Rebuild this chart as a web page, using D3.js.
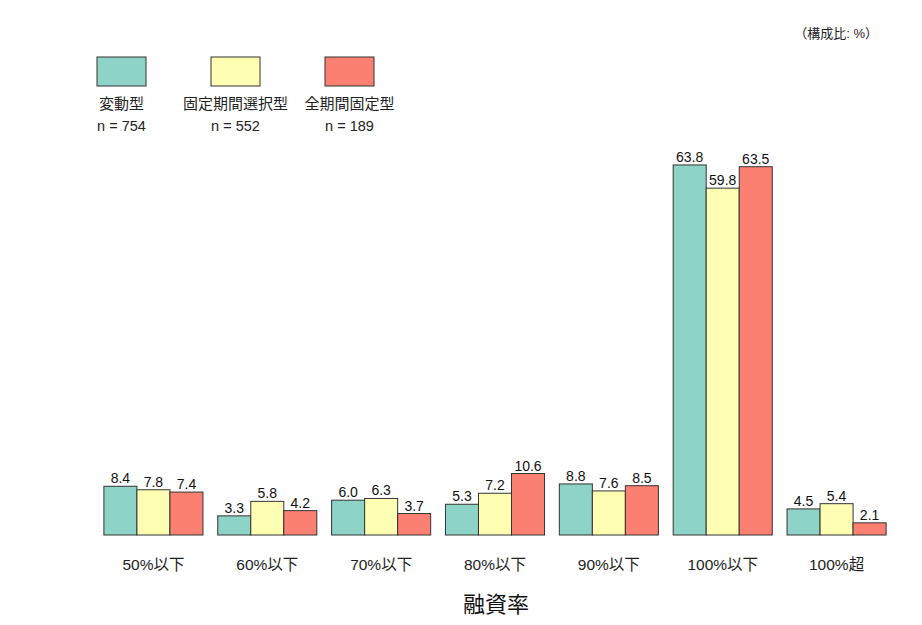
<!DOCTYPE html>
<html><head><meta charset="utf-8">
<script src="https://cdn.jsdelivr.net/npm/d3@7"></script>
<style>body{margin:0;background:#fff;} text{font-family:"Liberation Sans","Noto Sans CJK JP",Arial,sans-serif;}</style>
</head><body>
<svg id="c" width="922" height="625"></svg>
<script>
const categories = ["50%以下","60%以下","70%以下","80%以下","90%以下","100%以下","100%超"];
const seriesNames = ["変動型","固定期間選択型","全期間固定型"];
const seriesN = ["n = 754","n = 552","n = 189"];
const seriesColors = ["#8DD3C7","#FFFFB3","#FB8072"];
const hendo = [8.4,3.3,6.0,5.3,8.8,63.8,4.5];
const kotei = [7.8,5.8,6.3,7.2,7.6,59.8,5.4];
const zenki = [7.4,4.2,3.7,10.6,8.5,63.5,2.1];
const seriesValues = [hendo,kotei,zenki];

const svg = d3.select("#c");
const x = d3.scaleBand().domain(categories).range([96.5,893.5]).paddingInner(0.13).paddingOuter(0.065);
const xs = d3.scaleBand().domain(d3.range(seriesNames.length)).range([0,x.bandwidth()]);
const y = d3.scaleLinear().domain([0,70]).range([535,129]);

const g = svg.append("g");
categories.forEach((c,ci)=>{
  seriesValues.forEach((vals,si)=>{
    const v = vals[ci];
    g.append("rect").attr("x",x(c)+xs(si)).attr("y",y(v)).attr("width",xs.bandwidth()).attr("height",y(0)-y(v))
      .attr("fill",seriesColors[si]).attr("stroke","#333").attr("stroke-width",1);
  });
});
categories.forEach((c,ci)=>{
  seriesValues.forEach((vals,si)=>{
    const v = vals[ci];
    g.append("text").attr("x",x(c)+xs(si)+xs.bandwidth()/2).attr("y",y(v)-3).attr("text-anchor","middle")
      .attr("font-size",14).attr("fill","#111").text(v.toFixed(1));
  });
});
// category labels
const xAxis = d3.axisBottom(x).tickSize(0).tickPadding(0);
const ax = svg.append("g").attr("transform","translate(0,559)").call(xAxis);
ax.select(".domain").remove();
ax.selectAll("text").attr("font-size",15.5).attr("fill","#222").attr("dy","0.71em")
  .style("font-family",'"Liberation Sans","Noto Sans CJK JP",sans-serif');

svg.append("text").attr("x",496).attr("y",612).attr("text-anchor","middle").attr("font-size",22).attr("fill","#111").text("融資率");
svg.append("text").attr("x",878).attr("y",38).attr("text-anchor","end").attr("font-size",13).attr("fill","#222").text("（構成比: %）");

// legend
const lx = d3.scaleLinear().domain([0,1]).range([97,211]);
seriesNames.forEach((n,i)=>{
  const x0 = lx(i);
  svg.append("rect").attr("x",x0).attr("y",57).attr("width",49).attr("height",29).attr("fill",seriesColors[i]).attr("stroke","#333").attr("stroke-width",1);
  svg.append("text").attr("x",x0+24.5).attr("y",109).attr("text-anchor","middle").attr("font-size",15).attr("fill","#222").text(n);
  svg.append("text").attr("x",x0+24.5).attr("y",131).attr("text-anchor","middle").attr("font-size",14.5).attr("fill","#222").text(seriesN[i]);
});
</script>
</body></html>
